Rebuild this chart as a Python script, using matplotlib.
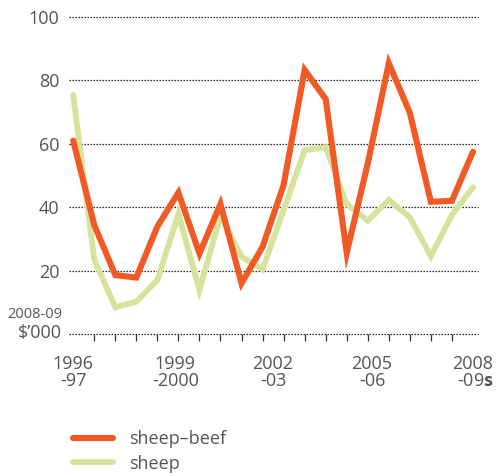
import numpy as np
import matplotlib.pyplot as plt
from matplotlib.lines import Line2D

# farm profit per farm, 2008-09 $'000, 20 survey points
sheep_beef = [61, 34.4, 18.6, 17.8, 33.9, 44.6, 25.4, 41.0, 16.0, 27.5,
              47.0, 83.3, 74.1, 25.6, 53.8, 85.4, 69.8, 41.7, 42.0, 57.5]
sheep = [75.4, 23.5, 8.4, 10.2, 17.0, 37.9, 13.9, 37.2, 24.4, 20.4,
         39.0, 58.0, 58.9, 41.0, 35.7, 42.3, 36.8, 24.6, 37.5, 46.3]
year_labels = ["1996\n-97", "1999\n-2000", "2002\n-03", "2005\n-06",
               "2008\n-09$\\mathbf{s}$"]
year_pos = [0, 4.85, 9.5, 14.2, 19]
y_ticks = [20, 40, 60, 80, 100]

ORANGE = "#F15A24"
GREEN = "#D4E49C"
GREY = "#555555"

plt.rcParams['font.family'] = ['Open Sans', 'DejaVu Sans']
plt.rcParams['mathtext.fontset'] = 'custom'
plt.rcParams['mathtext.bf'] = 'Open Sans:bold'

fig = plt.figure(figsize=(4.96, 4.76), dpi=100)
ax = fig.add_axes([69 / 496, 1 - 334 / 476, (478 - 69) / 496, (334 - 17) / 476])

x = np.arange(len(sheep))
ax.plot(x, sheep, color=GREEN, lw=4.2, solid_joinstyle='miter',
        solid_capstyle='round', zorder=3)
ax.plot(x, sheep_beef, color=ORANGE, lw=4.4, solid_joinstyle='miter',
        solid_capstyle='round', zorder=4)

ax.set_xlim(-0.2, 19.24)
ax.set_ylim(0, 100)
for s in ax.spines.values():
    s.set_visible(False)

# dotted gridlines including the zero baseline
for v in [0] + y_ticks:
    ax.axhline(v, color="#222222", lw=0.9, ls=(0, (1.2, 1.2)), zorder=1,
               clip_on=False)

ax.set_yticks(y_ticks)
ax.set_yticklabels([str(v) for v in y_ticks])
ax.tick_params(axis='y', length=0, pad=7, labelsize=13, labelcolor=GREY)

ax.set_xticks(x, minor=True)
ax.set_xticks(year_pos)
ax.set_xticklabels(year_labels, linespacing=0.95)
ax.get_xticklabels()[-1].set_multialignment('right')
ax.tick_params(axis='x', which='major', length=0, pad=15, labelsize=13,
               labelcolor=GREY)
ax.tick_params(axis='x', which='minor', length=5, width=0.9, color="#333333",
               direction='out')

fig.text(62 / 496, 1 - 315 / 476, "2008-09", ha='right', va='center',
         fontsize=10.5, color=GREY)
fig.text(62 / 496, 1 - 333 / 476, "$\u2019000", ha='right', va='center',
         fontsize=13, color=GREY)

handles = [Line2D([], [], color=ORANGE, lw=4.4, solid_capstyle='round'),
           Line2D([], [], color=GREEN, lw=4.2, solid_capstyle='round')]
fig.legend(handles, ["sheep\u2013beef", "sheep"], loc='upper left',
           bbox_to_anchor=(57 / 496, 1 - 414 / 476), frameon=False,
           fontsize=13, labelcolor=GREY, handlelength=2.2, handletextpad=0.9,
           labelspacing=0.35)

fig.savefig("out.png", dpi=100)
